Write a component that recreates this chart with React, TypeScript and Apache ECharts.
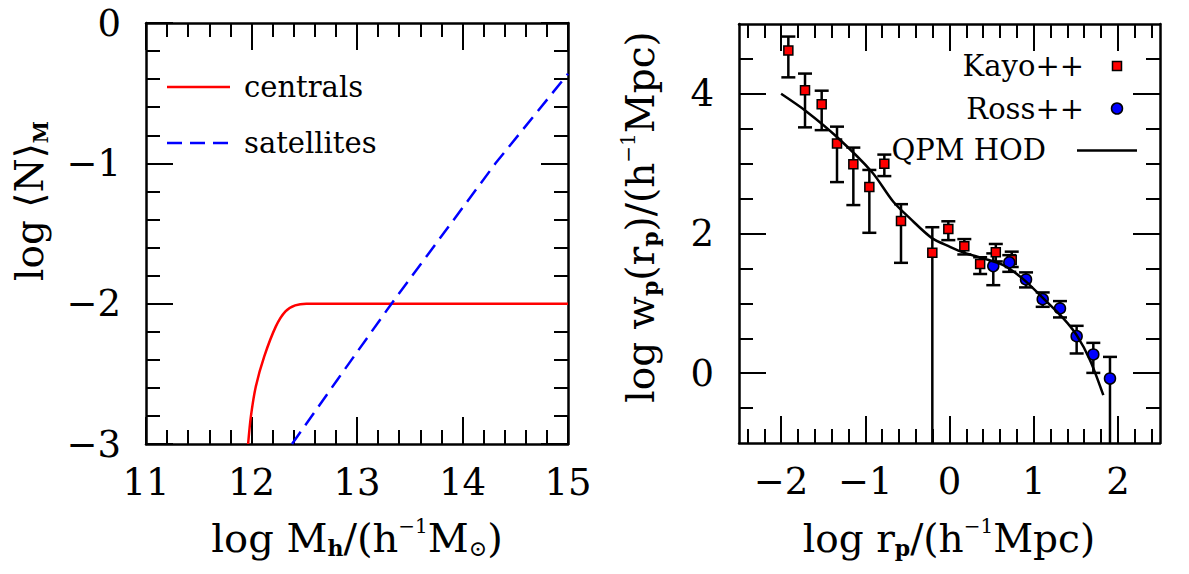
import React, { useEffect, useRef } from "react";
import * as echarts from "echarts";

const FONT = '"DejaVu Serif", "DejaVu Sans", serif';

// ---------- Left panel: halo occupation ----------
const massMajorTicks = [11, 12, 13, 14, 15];
const nMajorTicks = [-3, -2, -1, 0];

const centralsX = [11.968, 11.994, 12.041, 12.121, 12.231, 12.322, 12.414, 12.52, 12.7, 13.0, 14.0, 15.0];
const centralsY = [-3.0, -2.805, -2.59, -2.376, -2.162, -2.055, -2.012, -2.0, -2.0, -2.0, -2.0, -2.0];
const satellitesX = [12.384, 12.816, 13.327, 14.313, 15.0];
const satellitesY = [-3.0, -2.54, -2.0, -1.0, -0.362];

// ---------- Right panel: projected correlation function ----------
const rpMajorTicks = [-2, -1, 0, 1, 2];
const rpMinorTicks = [-2.4, -2.2, -1.8, -1.6, -1.4, -1.2, -0.8, -0.6, -0.4, -0.2, 0.2, 0.4, 0.6, 0.8, 1.2, 1.4, 1.6, 1.8, 2.2, 2.4];
const wpMajorTicks = [0, 2, 4];
const wpMinorTicks = [-0.5, 0.5, 1, 1.5, 2.5, 3, 3.5, 4.5];

const kayoX = [-1.914, -1.716, -1.518, -1.336, -1.142, -0.952, -0.774, -0.576, -0.204, -0.014, 0.176, 0.364, 0.55, 0.739];
const kayoY = [4.62, 4.05, 3.85, 3.29, 2.99, 2.665, 3.0, 2.18, 1.724, 2.063, 1.819, 1.565, 1.73, 1.62];
const kayoHi = [4.82, 4.29, 4.045, 3.53, 3.23, 2.91, 3.13, 2.42, 2.09, 2.175, 1.92, 1.66, 1.85, 1.74];
const kayoLo = [4.236, 3.52, 3.48, 2.736, 2.407, 2.01, 2.822, 1.58, -1.5, 1.905, 1.7, 1.42, 1.6, 1.52];

const rossX = [0.52, 0.71, 0.909, 1.107, 1.312, 1.51, 1.708, 1.906];
const rossY = [1.533, 1.586, 1.342, 1.06, 0.927, 0.53, 0.268, -0.076];
const rossHi = [1.715, 1.69, 1.443, 1.156, 1.032, 0.678, 0.434, 0.233];
const rossLo = [1.26, 1.451, 1.228, 0.95, 0.798, 0.282, 0.004, -1.5];

const qpmX = [-2.0, -1.696, -1.34, -0.924, -0.667, -0.469, -0.204, 0.006, 0.164, 0.401, 0.639, 0.876, 1.114, 1.352, 1.51, 1.669, 1.827];
const qpmY = [4.0, 3.744, 3.385, 2.884, 2.454, 2.216, 1.93, 1.81, 1.729, 1.643, 1.547, 1.347, 1.07, 0.784, 0.544, 0.186, -0.315];

const WP_MIN = -1;
const WP_MAX = 5;
const MAJOR_LEN = 27;
const MINOR_LEN = 14;
const SPLIT_X = 600; // left chart occupies 0..600, right chart 600..1189

const zip = (a: number[], b: number[]) => a.map((v, i) => [v, b[i]]);
const zip3 = (a: number[], b: number[], c: number[]) => a.map((v, i) => [v, b[i], c[i]]);
const minus = (v: number) => String(v).replace("-", "\u2212");

type Piece = { t: string; s: number; dy?: number; b?: boolean };

let measureCtx: CanvasRenderingContext2D | null = null;
function measure(p: Piece) {
  if (!measureCtx) measureCtx = document.createElement("canvas").getContext("2d");
  measureCtx!.font = `${p.b ? "bold " : ""}${p.s}px ${FONT}`;
  return measureCtx!.measureText(p.t).width;
}

function richTitle(pieces: Piece[], cx: number, cy: number, rotation = 0) {
  const widths = pieces.map(measure);
  const total = widths.reduce((a, b) => a + b, 0);
  let x = -total / 2;
  const children = pieces.map((p, i) => {
    const el = {
      type: "text",
      x,
      y: p.dy || 0,
      style: {
        text: p.t,
        fontSize: p.s,
        fontFamily: FONT,
        fontWeight: p.b ? "bold" : "normal",
        fill: "#000",
        align: "left",
        verticalAlign: "middle",
      },
    };
    x += widths[i];
    return el;
  });
  return { type: "group", x: cx, y: cy, rotation, children };
}

const AXIS_LINE = { show: true, onZero: false, lineStyle: { color: "#000", width: 2.5 } };
const labelStyle = (isX: boolean) => ({
  show: true,
  formatter: minus,
  fontFamily: FONT,
  fontSize: 37,
  color: "#000",
  margin: isX ? 38 : 25,
  verticalAlign: "middle",
});

// Left panel: regular interval with minor ticks (min is a multiple of the interval).
function makeLeftAxes(sides: [string, string], min: number, max: number, isX: boolean) {
  const base = {
    gridIndex: 0,
    type: "value",
    min,
    max,
    interval: 1,
    splitLine: { show: false },
    axisLine: AXIS_LINE,
    axisTick: { show: true, inside: true, length: MAJOR_LEN, lineStyle: { color: "#000", width: 2 } },
    minorTick: { show: true, splitNumber: 5, length: MINOR_LEN, lineStyle: { color: "#000", width: 2 } },
    minorSplitLine: { show: false },
  };
  return [
    { ...base, position: sides[0], axisLabel: labelStyle(isX) },
    { ...base, position: sides[1], axisLabel: { show: false } },
  ];
}

// Right panel: custom tick positions (range does not start on a tick).
function makeRightAxes(sides: [string, string], min: number, max: number, majors: number[], minors: number[], isX: boolean) {
  const noLine = { show: false, onZero: false };
  const base = { gridIndex: 0, type: "value", min, max, splitLine: { show: false } };
  const tick = (vals: number[], len: number) => ({
    show: true,
    inside: true,
    length: len,
    customValues: vals,
    lineStyle: { color: "#000", width: 2 },
  });
  return [
    { ...base, position: sides[0], axisLine: AXIS_LINE, axisTick: tick(majors, MAJOR_LEN), axisLabel: { ...labelStyle(isX), customValues: majors } },
    { ...base, position: sides[0], axisLine: noLine, axisTick: tick(minors, MINOR_LEN), axisLabel: { show: false } },
    { ...base, position: sides[1], axisLine: AXIS_LINE, axisTick: tick(majors, MAJOR_LEN), axisLabel: { show: false } },
    { ...base, position: sides[1], axisLine: noLine, axisTick: tick(minors, MINOR_LEN), axisLabel: { show: false } },
  ];
}

function errorBarItem(params: any, api: any) {
  const x = api.value(0);
  const lo = api.value(1);
  const hi = api.value(2);
  const top = api.coord([x, hi]);
  const bot = api.coord([x, lo]);
  const hw = 7;
  const style = { stroke: "#000", lineWidth: 2.5 };
  const children: any[] = [
    { type: "line", shape: { x1: top[0], y1: top[1], x2: bot[0], y2: bot[1] }, style },
    { type: "line", shape: { x1: top[0] - hw, y1: top[1], x2: top[0] + hw, y2: top[1] }, style },
  ];
  if (lo > WP_MIN) {
    children.push({ type: "line", shape: { x1: bot[0] - hw, y1: bot[1], x2: bot[0] + hw, y2: bot[1] }, style });
  }
  return { type: "group", children };
}

const legendText = (text: string, x: number, y: number, align: string) => ({
  type: "text",
  x,
  y,
  style: { text, fontSize: 29, fontFamily: FONT, fill: "#000", align, verticalAlign: "middle" },
});

export default function App() {
  const leftRef = useRef<HTMLDivElement>(null);
  const rightRef = useRef<HTMLDivElement>(null);

  useEffect(() => {
    document.body.style.margin = "0";
    const left = echarts.init(leftRef.current!, undefined, { renderer: "svg" });
    const right = echarts.init(rightRef.current!, undefined, { renderer: "svg" });

    left.setOption({
      animation: false,
      backgroundColor: "#fff",
      grid: [{ left: 146, top: 23, width: 422, height: 421 }],
      xAxis: makeLeftAxes(["bottom", "top"], massMajorTicks[0], massMajorTicks[massMajorTicks.length - 1], true),
      yAxis: makeLeftAxes(["left", "right"], nMajorTicks[0], nMajorTicks[nMajorTicks.length - 1], false),
      series: [
        {
          type: "line",
          xAxisIndex: 0,
          yAxisIndex: 0,
          data: zip(centralsX, centralsY),
          showSymbol: false,
          smooth: 0.3,
          lineStyle: { color: "#ff0000", width: 2.5 },
        },
        {
          type: "line",
          xAxisIndex: 0,
          yAxisIndex: 0,
          data: zip(satellitesX, satellitesY),
          showSymbol: false,
          lineStyle: { color: "#0000ff", width: 2.5, type: [15, 8] },
        },
      ],
      graphic: [
        { type: "line", shape: { x1: 167, y1: 87, x2: 230, y2: 87 }, style: { stroke: "#ff0000", lineWidth: 2.5 } },
        legendText("centrals", 244, 87, "left"),
        {
          type: "line",
          shape: { x1: 167, y1: 143, x2: 230, y2: 143 },
          style: { stroke: "#0000ff", lineWidth: 2.5, lineDash: [15, 8] },
        },
        legendText("satellites", 244, 143, "left"),
        richTitle(
          [
            { t: "log M", s: 40 },
            { t: "h", s: 22, dy: 10, b: true },
            { t: "/(h", s: 40 },
            { t: "\u22121", s: 20, dy: -12 },
            { t: "M", s: 40 },
            { t: "\u2299", s: 22, dy: 10 },
            { t: ")", s: 40 },
          ],
          357,
          538
        ),
        richTitle(
          [
            { t: "log \u27E8N\u27E9", s: 39 },
            { t: "M", s: 20, dy: 12, b: true },
          ],
          29,
          201,
          Math.PI / 2
        ),
      ],
    });

    const o = SPLIT_X;
    right.setOption({
      animation: false,
      backgroundColor: "#fff",
      grid: [{ left: 739 - o, top: 24, width: 421, height: 419 }],
      xAxis: makeRightAxes(["bottom", "top"], -2.5, 2.5, rpMajorTicks, rpMinorTicks, true),
      yAxis: makeRightAxes(["left", "right"], WP_MIN, WP_MAX, wpMajorTicks, wpMinorTicks, false),
      series: [
        {
          type: "line",
          data: zip(qpmX, qpmY),
          showSymbol: false,
          smooth: 0.3,
          lineStyle: { color: "#000", width: 2.5 },
        },
        {
          type: "custom",
          renderItem: errorBarItem,
          clip: true,
          encode: { x: 0, y: [1, 2] },
          data: zip3(kayoX, kayoLo, kayoHi),
        },
        {
          type: "custom",
          renderItem: errorBarItem,
          clip: true,
          encode: { x: 0, y: [1, 2] },
          data: zip3(rossX, rossLo, rossHi),
        },
        {
          type: "scatter",
          symbol: "rect",
          symbolSize: 9,
          data: zip(kayoX, kayoY),
          itemStyle: { color: "#ff0000", borderColor: "#000", borderWidth: 1.5, opacity: 1 },
        },
        {
          type: "scatter",
          symbol: "circle",
          symbolSize: 11,
          data: zip(rossX, rossY),
          itemStyle: { color: "#0000ff", borderColor: "#000", borderWidth: 1.5, opacity: 1 },
        },
      ],
      graphic: [
        legendText("Kayo++", 1084 - o, 66, "right"),
        { type: "rect", shape: { x: 1112.5 - o, y: 61.5, width: 9, height: 9 }, style: { fill: "#ff0000", stroke: "#000", lineWidth: 1.5 } },
        legendText("Ross++", 1084 - o, 109, "right"),
        { type: "circle", shape: { cx: 1117 - o, cy: 108.5, r: 5.5 }, style: { fill: "#0000ff", stroke: "#000", lineWidth: 1.5 } },
        legendText("QPM HOD", 1046 - o, 150, "right"),
        { type: "line", shape: { x1: 1077 - o, y1: 150.5, x2: 1137 - o, y2: 150.5 }, style: { stroke: "#000", lineWidth: 2.5 } },
        richTitle(
          [
            { t: "log r", s: 39 },
            { t: "p", s: 22, dy: 10, b: true },
            { t: "/(h", s: 39 },
            { t: "\u22121", s: 20, dy: -12 },
            { t: "Mpc)", s: 39 },
          ],
          949 - o,
          538
        ),
        richTitle(
          [
            { t: "log w", s: 39 },
            { t: "p", s: 22, dy: 10, b: true },
            { t: "(r", s: 39 },
            { t: "p", s: 22, dy: 10, b: true },
            { t: ")/(h", s: 39 },
            { t: "\u22121", s: 20, dy: -12 },
            { t: "Mpc)", s: 39 },
          ],
          640 - o,
          217,
          Math.PI / 2
        ),
      ],
    });

    return () => {
      left.dispose();
      right.dispose();
    };
  }, []);

  return (
    <div style={{ position: "absolute", left: 0, top: 0, width: 1189, height: 574, background: "#fff" }}>
      <div ref={leftRef} style={{ position: "absolute", left: 0, top: 0, width: SPLIT_X, height: 574 }} />
      <div ref={rightRef} style={{ position: "absolute", left: SPLIT_X, top: 0, width: 1189 - SPLIT_X, height: 574 }} />
    </div>
  );
}
